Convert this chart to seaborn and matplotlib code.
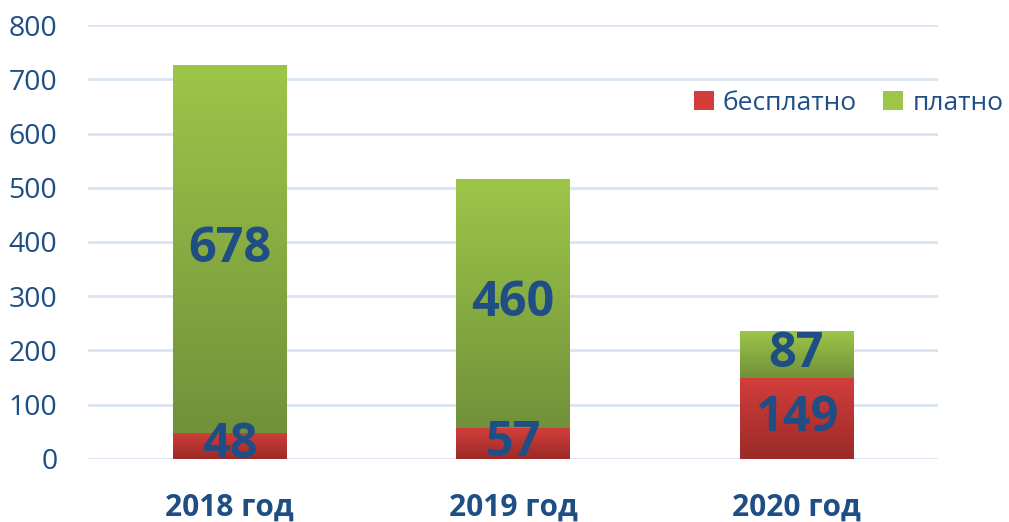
import numpy as np
import pandas as pd
import matplotlib
matplotlib.use('Agg')
import matplotlib.pyplot as plt
import matplotlib.colors as mcolors
from matplotlib.patches import Patch
import seaborn as sns

years = ['2018 год', '2019 год', '2020 год']
free = [48, 57, 149]
paid = [678, 460, 87]
series_names = ['бесплатно', 'платно']

TEXT = '#1F4E85'
RED_TOP, RED_BOT = '#D23E3B', '#9B2A28'
GREEN_TOP, GREEN_BOT = '#9DC649', '#71913A'

sns.set_theme(style='white')
plt.rcParams['font.family'] = ['Open Sans', 'DejaVu Sans']

df = pd.DataFrame({'year': years, 'free': free, 'paid': paid})
df['total'] = df['free'] + df['paid']

fig = plt.figure(figsize=(10.09, 5.22), dpi=100)
ax = fig.add_axes([0.0872, 0.1207, 0.8424, 0.8314])

sns.barplot(data=df, x='year', y='total', color=GREEN_TOP, width=0.40, ax=ax, saturation=1)
sns.barplot(data=df, x='year', y='free', color=RED_TOP, width=0.40, ax=ax, saturation=1)


def gradient_fill(ax, patch, top, bottom):
    # vertical gradient clipped to the bar
    x0, y0 = patch.get_x(), patch.get_y()
    w, h = patch.get_width(), patch.get_height()
    cmap = mcolors.LinearSegmentedColormap.from_list('g', [bottom, top])
    grad = np.linspace(0, 1, 256).reshape(-1, 1)
    im = ax.imshow(grad, cmap=cmap, aspect='auto', origin='lower',
                   extent=(x0, x0 + w, y0, y0 + h), zorder=patch.get_zorder() + 0.1)
    im.set_clip_path(patch)


patches = ax.patches
n = len(years)
green_bars = patches[:n]
red_bars = patches[n:]
for p, f in zip(green_bars, free):
    # green part sits above the red one
    p.set_y(f)
    p.set_height(p.get_height() - f)
for p in green_bars:
    gradient_fill(ax, p, GREEN_TOP, GREEN_BOT)
for p in red_bars:
    gradient_fill(ax, p, RED_TOP, RED_BOT)

for p in patches:
    p.set_edgecolor('none')

# value labels
for i in range(n):
    ax.text(i, free[i] / 2, str(free[i]), ha='center', va='center',
            fontsize=35, fontweight='bold', color=TEXT, zorder=10)
    ax.text(i, free[i] + paid[i] / 2, str(paid[i]), ha='center', va='center',
            fontsize=35, fontweight='bold', color=TEXT, zorder=10)

ax.set_xlim(-0.5, 2.5)
ax.set_ylim(0, 800)
ax.set_yticks(range(0, 801, 100))
ax.grid(axis='y', color='#D9E4F2', linewidth=2)
ax.set_axisbelow(True)
sns.despine(ax=ax, left=True, bottom=True)
ax.set_xlabel('')
ax.set_ylabel('')
ax.tick_params(axis='y', labelsize=20.5, labelcolor=TEXT, length=0, pad=22)
ax.tick_params(axis='x', labelsize=21.5, labelcolor=TEXT, length=0, pad=24)
for lbl in ax.get_xticklabels():
    lbl.set_fontweight('bold')

handles = [Patch(facecolor=RED_TOP, edgecolor='none'), Patch(facecolor=GREEN_TOP, edgecolor='none')]
leg = ax.legend(handles, series_names, loc='center right', bbox_to_anchor=(1.105, 0.82),
                ncol=2, frameon=False, fontsize=19, handlelength=0.75, handleheight=0.75,
                handletextpad=0.35, columnspacing=1.0)
for t in leg.get_texts():
    t.set_color(TEXT)

fig.savefig('out.png', dpi=100)
